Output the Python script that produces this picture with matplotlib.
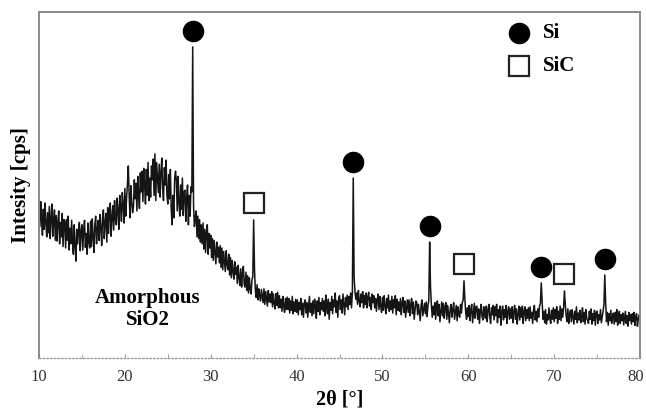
import numpy as np
import matplotlib
matplotlib.use("Agg")
import matplotlib.pyplot as plt
import matplotlib.transforms as mtransforms

# XRD pattern, 2-theta from 10 to 80 deg in 0.1 deg steps (arbitrary cps units)
two_theta_start, two_theta_step = 10.0, 0.1
intensity = [
    440, 380, 452, 398, 355, 430, 372, 448, 390, 350,   # 10
    420, 362, 438, 345, 405, 445, 352, 395, 428, 340,   # 11
    412, 338, 395, 425, 330, 392, 350, 418, 322, 400,   # 12
    392, 318, 400, 340, 410, 312, 375, 330, 398, 335,   # 13
    300, 385, 325, 280, 372, 330, 365, 392, 310, 368,   # 14
    385, 312, 370, 398, 320, 360, 300, 390, 335, 318,   # 15
    395, 322, 402, 350, 305, 385, 410, 330, 372, 398,   # 16
    340, 415, 378, 325, 405, 428, 345, 392, 418, 335,   # 17
    435, 360, 420, 448, 352, 408, 440, 370, 455, 400,   # 18
    385, 462, 425, 372, 470, 440, 395, 478, 445, 390,   # 19
    490, 410, 462, 505, 555, 470, 405, 498, 448, 420,   # 20
    438, 515, 460, 505, 425, 525, 470, 432, 535, 480,   # 21
    540, 452, 548, 500, 445, 545, 470, 565, 455, 520,   # 22
    465, 555, 515, 575, 470, 590, 455, 565, 520, 478,   # 23
    560, 465, 535, 578, 490, 455, 550, 500, 572, 470,   # 24
    445, 530, 460, 545, 430, 385, 470, 405, 520, 540,   # 25
    510, 425, 525, 450, 410, 500, 430, 520, 412, 480,   # 26
    485, 395, 465, 500, 385, 470, 410, 495, 480, 899,   # 27  Si (111)
    440, 380, 405, 425, 350, 410, 345, 400, 335, 385,   # 28
    330, 390, 315, 372, 305, 365, 385, 300, 360, 318,   # 29
    355, 290, 345, 282, 340, 305, 272, 335, 292, 320,   # 30
    275, 325, 262, 318, 255, 308, 280, 250, 310, 270,   # 31
    255, 300, 240, 290, 232, 282, 250, 228, 278, 242,   # 32
    262, 215, 268, 232, 210, 258, 205, 245, 265, 212,   # 33
    205, 248, 195, 238, 188, 232, 200, 185, 225, 235,   # 34
    399, 255, 195, 175, 212, 168, 200, 180, 165, 198,   # 35  SiC (111)
    180, 160, 200, 155, 192, 172, 150, 195, 162, 185,   # 36
    160, 192, 148, 185, 158, 142, 186, 152, 190, 145,   # 37
    180, 145, 170, 135, 178, 150, 132, 172, 140, 176,   # 38
    140, 172, 130, 165, 138, 178, 128, 162, 135, 170,   # 39
    132, 168, 125, 160, 140, 172, 125, 158, 118, 160,   # 40
    168, 130, 160, 118, 150, 178, 132, 158, 122, 165,   # 41
    128, 170, 145, 115, 165, 135, 175, 125, 160, 140,   # 42
    172, 135, 165, 122, 182, 145, 128, 170, 112, 160,   # 43
    138, 178, 128, 168, 148, 188, 132, 165, 118, 172,   # 44
    180, 140, 168, 130, 185, 155, 125, 175, 148, 182,   # 45
    140, 178, 155, 188, 145, 190, 520, 235, 192, 170,   # 46  Si (220)
    188, 155, 195, 165, 148, 185, 160, 192, 145, 180,   # 47
    155, 188, 145, 178, 190, 150, 175, 140, 185, 160,   # 48
    180, 145, 172, 135, 168, 185, 140, 178, 150, 132,   # 49
    175, 138, 180, 150, 128, 172, 145, 182, 135, 165,   # 50
    140, 178, 130, 168, 145, 180, 125, 170, 138, 162,   # 51
    135, 172, 125, 160, 175, 132, 165, 118, 142, 168,   # 52
    132, 168, 122, 155, 172, 128, 162, 112, 140, 165,   # 53
    160, 125, 155, 130, 108, 152, 168, 122, 140, 158,   # 54
    128, 162, 120, 152, 165, 335, 205, 155, 118, 150,   # 55  Si (311)
    125, 160, 112, 150, 165, 122, 155, 105, 135, 162,   # 56
    122, 158, 115, 148, 160, 112, 152, 128, 102, 145,   # 57
    155, 118, 142, 160, 112, 132, 152, 108, 148, 125,   # 58
    118, 155, 130, 160, 168, 223, 172, 132, 112, 145,   # 59  SiC (220)
    120, 152, 108, 142, 155, 102, 130, 158, 115, 148,   # 60
    150, 112, 142, 100, 135, 155, 120, 110, 148, 125,   # 61
    115, 150, 105, 138, 155, 120, 100, 145, 125, 152,   # 62
    110, 148, 122, 155, 102, 140, 118, 150, 95, 135,    # 63
    150, 110, 140, 118, 152, 100, 135, 148, 112, 142,   # 64
    115, 148, 102, 135, 152, 112, 142, 98, 128, 150,    # 65
    110, 145, 118, 150, 100, 135, 148, 108, 140, 115,   # 66
    145, 108, 148, 115, 132, 100, 140, 152, 110, 135,   # 67
    105, 142, 118, 150, 158, 217, 165, 112, 135, 102,   # 68  Si (400)
    140, 98, 125, 110, 145, 115, 100, 138, 112, 145,    # 69
    105, 140, 115, 148, 100, 135, 112, 150, 108, 142,   # 70
    118, 145, 194, 155, 122, 105, 142, 100, 125, 138,   # 71  SiC (311)
    105, 140, 118, 98, 135, 112, 148, 102, 130, 110,    # 72
    138, 102, 120, 145, 105, 132, 98, 140, 115, 108,    # 73
    100, 135, 112, 142, 98, 128, 108, 138, 95, 130,     # 74
    135, 100, 125, 110, 140, 102, 118, 135, 155, 240,   # 75  Si (331)
    160, 105, 132, 95, 128, 108, 138, 100, 118, 130,    # 76
    98, 132, 105, 140, 95, 120, 135, 100, 125, 108,     # 77
    130, 96, 115, 135, 100, 122, 92, 132, 108, 125,     # 78
    98, 128, 105, 132, 94, 120, 128, 92, 112, 125,      # 79
    112,                                                # 80
]

# Identified reflections: 2-theta positions of each phase
si_peaks = [27.9, 46.6, 55.5, 68.5, 75.9]
sic_peaks = [35.0, 59.5, 71.2]

tt = two_theta_start + two_theta_step * np.arange(len(intensity))
inten = np.array(intensity, dtype=float)


def peak_height(pos):
    return inten[np.argmin(np.abs(tt - pos))]


plt.rcParams["font.family"] = ["Liberation Serif", "DejaVu Serif"]

fig = plt.figure(figsize=(6.46, 4.12), dpi=100)
ax = fig.add_axes([0.0604, 0.131, 0.9303, 0.840])

ax.plot(tt, inten, color="#151515", lw=1.1)

ax.set_xlim(10, 80)
ax.set_ylim(0, 1000)


def marker_above(pos, lift_px, **style):
    """Place a phase symbol a fixed number of pixels above a peak tip."""
    tr = ax.transData + mtransforms.ScaledTranslation(0, lift_px / fig.dpi,
                                                      fig.dpi_scale_trans)
    ax.plot([pos], [peak_height(pos)], linestyle="none", transform=tr,
            clip_on=False, **style)


circle_style = dict(marker="o", ms=14.5, color="black")
square_style = dict(marker="s", ms=14.5, mfc="white", mec="#222222", mew=1.6)

for p in si_peaks:
    marker_above(p, 16, **circle_style)
for p in sic_peaks:
    marker_above(p, 17, **square_style)

# Phase key in the upper right
ax.plot(0.799, 0.938, linestyle="none", transform=ax.transAxes,
        clip_on=False, **circle_style)
ax.text(0.838, 0.938, "Si", transform=ax.transAxes, ha="left", va="center",
        fontsize=15, fontweight="bold")
ax.plot(0.799, 0.843, linestyle="none", transform=ax.transAxes,
        clip_on=False, **square_style)
ax.text(0.838, 0.843, "SiC", transform=ax.transAxes, ha="left", va="center",
        fontsize=15, fontweight="bold")

ax.text(22.7, 142, "Amorphous\nSiO2", ha="center", va="center",
        fontsize=15, fontweight="bold", linespacing=1.15)

# Frame styling
for side in ("left", "top", "right"):
    ax.spines[side].set_color("#8a8a8a")
    ax.spines[side].set_linewidth(1.4)
ax.spines["bottom"].set_color("#9a9a9a")
ax.spines["bottom"].set_linestyle(":")
ax.spines["bottom"].set_linewidth(1.0)

ax.set_xticks(np.arange(10, 81, 10))
ax.set_xticks(np.arange(15, 80, 10), minor=True)
ax.tick_params(axis="x", which="both", direction="in", length=3,
               color="#9a9a9a", labelsize=12, labelcolor="#333333", pad=8)
ax.set_yticks([])

# keep the last tick label inside the canvas
last = ax.get_xticklabels()[-1]
last.set_transform(last.get_transform() + mtransforms.ScaledTranslation(
    -4 / fig.dpi, 0, fig.dpi_scale_trans))

ax.set_xlabel("2\u03b8 [\u00b0]", fontsize=14.5, fontweight="bold", labelpad=3)
ax.set_ylabel("Intesity [cps]", fontsize=15, fontweight="bold", labelpad=6)

fig.savefig("out.png", dpi=100)
